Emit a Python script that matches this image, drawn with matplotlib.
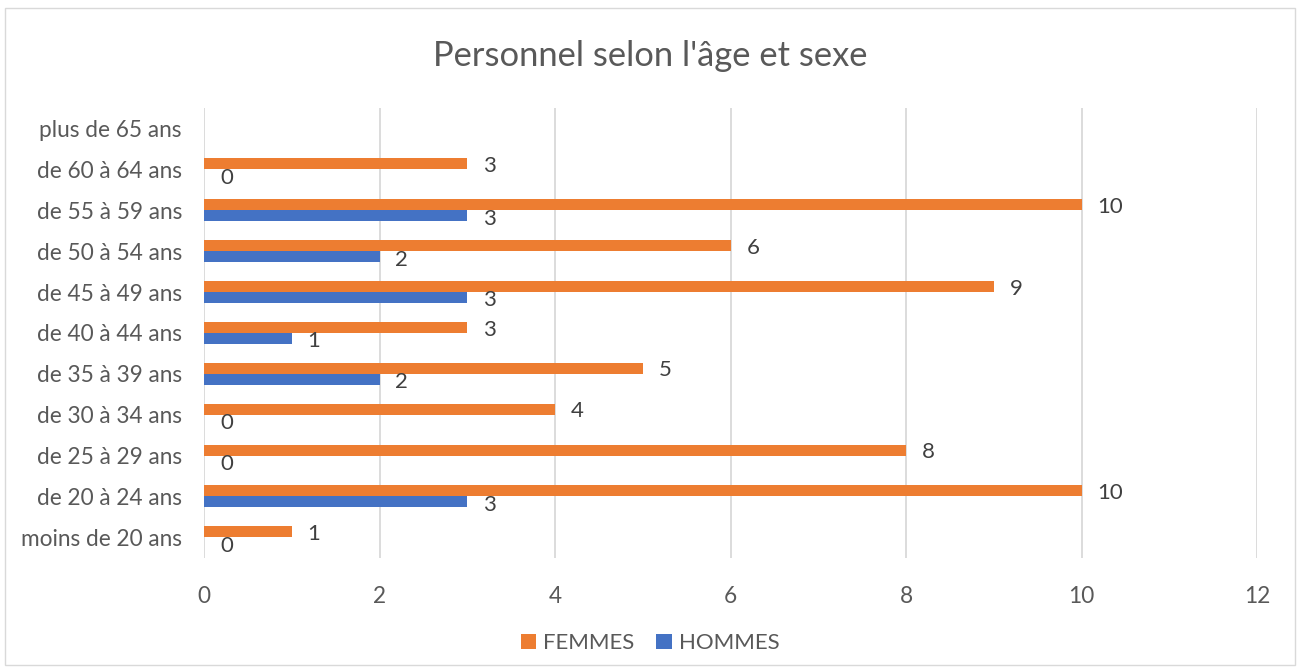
import matplotlib.pyplot as plt
import numpy as np
from matplotlib.patches import Rectangle

plt.rcParams['font.family'] = ['Lato', 'DejaVu Sans']

categories = ['moins de 20 ans', 'de 20 à 24 ans', 'de 25 à 29 ans', 'de 30 à 34 ans',
              'de 35 à 39 ans', 'de 40 à 44 ans', 'de 45 à 49 ans', 'de 50 à 54 ans',
              'de 55 à 59 ans', 'de 60 à 64 ans', 'plus de 65 ans']
femmes = [1, 10, 8, 4, 5, 3, 9, 6, 10, 3, None]
hommes = [0, 3, 0, 0, 2, 1, 3, 2, 3, 0, None]
xticks = [0, 2, 4, 6, 8, 10, 12]

orange = '#ED7D31'
blue = '#4472C4'
txt = '#595959'

fig = plt.figure(figsize=(13, 6.72), dpi=100)
ax = fig.add_axes([0.157, 0.170, 0.810, 0.669])

y = np.arange(len(categories))
h = 0.27
for i, (f, m) in enumerate(zip(femmes, hommes)):
    if f is None:
        continue
    ax.barh(y[i] + h / 2, f, height=h, color=orange, label='FEMMES' if i == 0 else None)
    ax.barh(y[i] - h / 2, m, height=h, color=blue, label='HOMMES' if i == 0 else None)
    ax.text(f + 0.18, y[i] + h / 2 - 0.05, str(f), va='center', ha='left', fontsize=16, color='#404040')
    ax.text(m + 0.18, y[i] - h / 2 - 0.07, str(m), va='center', ha='left', fontsize=16, color='#404040')

ax.set_xlim(0, 12)
ax.set_ylim(-0.5, len(categories) - 0.5)
ax.set_xticks(xticks)
ax.set_yticks(y)
ax.set_yticklabels(categories)
ax.tick_params(axis='both', length=0, labelsize=16.3, colors=txt)
ax.tick_params(axis='x', pad=20)
ax.tick_params(axis='y', pad=16)
ax.grid(axis='x', color='#d9d9d9', linewidth=1.3)
ax.set_axisbelow(True)
for s in ax.spines.values():
    s.set_visible(False)

fig.text(0.5, 0.917, "Personnel selon l'âge et sexe", ha='center', va='center', fontsize=24.8, color=txt)

handles, labels = ax.get_legend_handles_labels()
fig.legend(handles, labels, loc='center', bbox_to_anchor=(0.5, 0.043), ncol=2, frameon=False,
           fontsize=16, labelcolor=txt, handlelength=0.7, handleheight=0.7, handletextpad=0.3,
           columnspacing=1.0)

fig.patches.append(Rectangle((0.004, 0.01), 0.992, 0.978, transform=fig.transFigure,
                             fill=False, edgecolor='#d9d9d9', linewidth=1))

fig.savefig('out.png', dpi=100)
